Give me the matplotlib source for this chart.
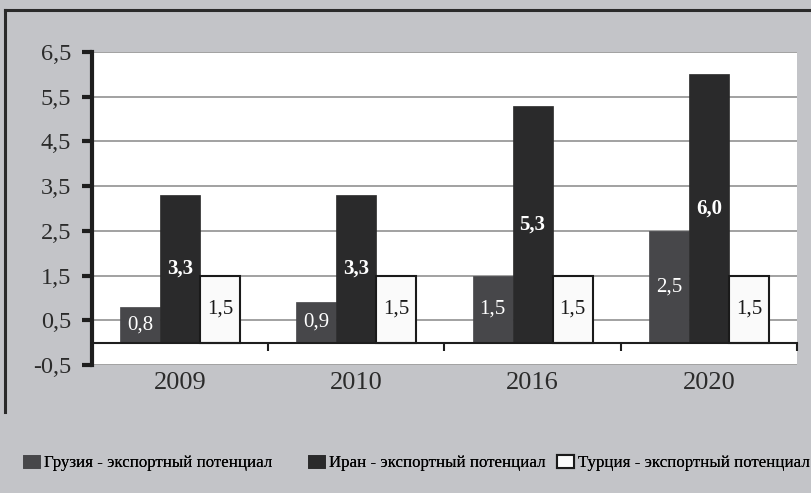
import matplotlib
matplotlib.use("Agg")
import matplotlib.pyplot as plt
from matplotlib.lines import Line2D
import numpy as np

years = ["2009", "2010", "2016", "2020"]
georgia = [0.8, 0.9, 1.5, 2.5]
iran = [3.3, 3.3, 5.3, 6.0]
turkey = [1.5, 1.5, 1.5, 1.5]
series_names = ["Грузия - экспортный потенциал",
                "Иран - экспортный потенциал",
                "Турция - экспортный потенциал"]
yticks = [-0.5, 0.5, 1.5, 2.5, 3.5, 4.5, 5.5, 6.5]

plt.rcParams['font.family'] = ['Liberation Serif', 'DejaVu Serif']

BG = "#c3c4c8"
fig = plt.figure(figsize=(8.12, 4.93), dpi=100, facecolor=BG)
ax = fig.add_axes([92/812, 1-365/493, (797-92)/812, (365-52)/493])
ax.set_facecolor("white")

x = np.arange(len(years))
w = 0.227
colors = ["#47474a", "#2a2a2b", "#fafafa"]
edges = ["#47474a", "#2a2a2b", "#1a1a1a"]
data = [georgia, iran, turkey]
bars = []
for i, (vals, c, e) in enumerate(zip(data, colors, edges)):
    b = ax.bar(x + (i-1)*w, vals, width=w, color=c, edgecolor=e,
               linewidth=1.5 if i == 2 else 0.5, zorder=3, label=series_names[i])
    bars.append(b)
    for rect, v in zip(b, vals):
        txt = f"{v:.1f}".replace(".", ",")
        ax.text(rect.get_x()+rect.get_width()/2, v/2, txt,
                ha="center", va="center", fontsize=15,
                color="white" if i < 2 else "#1a1a1a",
                fontweight="bold" if i == 1 else "normal", zorder=4)

ax.set_xlim(-0.5, len(years)-0.5)
ax.set_ylim(-0.5, 6.5)
ax.set_yticks(yticks)
ax.set_yticklabels([f"{t:.1f}".replace(".", ",") for t in yticks], fontsize=17.5, color="#2b2b2b")
ax.yaxis.grid(True, color="#9a9a9a", linewidth=1.3, zorder=0)
ax.set_axisbelow(True)

for s in ["top", "right"]:
    ax.spines[s].set_visible(False)
ax.spines["left"].set_linewidth(3)
ax.spines["left"].set_color("#1e1e1e")
ax.spines["bottom"].set_position(("data", 0))
ax.spines["bottom"].set_linewidth(1.5)
ax.spines["bottom"].set_color("#1e1e1e")
ax.spines["bottom"].set_zorder(5)
ax.tick_params(axis="y", direction="out", length=7, width=3, color="#1e1e1e", pad=8)

ax.set_xticks(np.arange(len(years)+1) - 0.5)
ax.set_xticklabels([])
ax.tick_params(axis="x", which="major", direction="out", length=6, width=1.5, color="#1e1e1e")
ax.set_xticks(x, minor=True)
ax.set_xticklabels(years, minor=True, fontsize=19, color="#2b2b2b")
ax.tick_params(axis="x", which="minor", length=0, pad=21)

# frame lines of the figure
fig.add_artist(Line2D([5/812, 1.0], [1-10/493, 1-10/493], color="#2a2a2a", lw=2.2, transform=fig.transFigure))
fig.add_artist(Line2D([5/812, 5/812], [1-10/493, 1-412/493], color="#2a2a2a", lw=2.2, transform=fig.transFigure))

legend_x = [23, 308, 557]
for b, name, lx in zip(bars, series_names, legend_x):
    lg = fig.legend(handles=[b], labels=[name], loc="center left",
                    bbox_to_anchor=(lx/812, 1-463/493), frameon=False,
                    fontsize=12.2, handlelength=1.0, handleheight=0.8,
                    handletextpad=0.25, borderpad=0, borderaxespad=0)
    fig.add_artist(lg)

fig.savefig("out.png", dpi=100, facecolor=BG)
